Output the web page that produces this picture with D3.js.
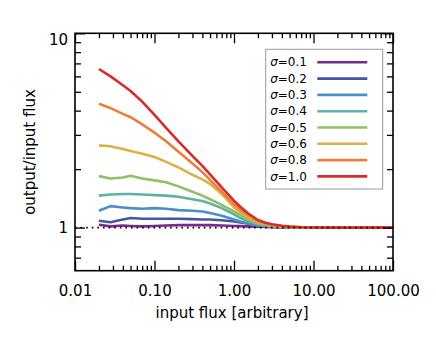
<!DOCTYPE html>
<html>
<head>
<meta charset="utf-8">
<script src="https://cdn.jsdelivr.net/npm/d3@7"></script>
<style>
  body { margin: 0; background: #fff; }
  text { font-family: "DejaVu Sans", sans-serif; }
</style>
</head>
<body>
<svg id="svg" width="436" height="339"></svg>
<script>
// sample points along the input flux axis
var fluxIn = [0.02, 0.028, 0.04, 0.05, 0.07, 0.1, 0.14, 0.2, 0.3, 0.4, 0.5, 0.7, 1, 1.2, 1.5, 2, 2.5, 3, 4, 5, 7, 10, 20, 50, 100];

// output/input ratio, one array per sigma
var ratio01 = [1.035, 1.015, 1.025, 1.02, 1.015, 1.02, 1.025, 1.03, 1.03, 1.03, 1.03, 1.025, 1.02, 1.018, 1.015, 1.01, 1.007, 1.005, 1.002, 1.0, 1.0, 1.0, 1.0, 1.0, 1.0];
var ratio02 = [1.085, 1.065, 1.10, 1.12, 1.11, 1.11, 1.11, 1.11, 1.105, 1.10, 1.10, 1.09, 1.075, 1.062, 1.05, 1.03, 1.022, 1.015, 1.009, 1.005, 1.002, 1.0, 1.0, 1.0, 1.0];
var ratio03 = [1.22, 1.29, 1.27, 1.26, 1.25, 1.26, 1.25, 1.23, 1.22, 1.21, 1.19, 1.15, 1.10, 1.075, 1.05, 1.027, 1.018, 1.012, 1.006, 1.003, 1.001, 1.0, 1.0, 1.0, 1.0];
var ratio04 = [1.46, 1.48, 1.49, 1.49, 1.48, 1.47, 1.46, 1.44, 1.40, 1.37, 1.33, 1.26, 1.17, 1.12, 1.08, 1.04, 1.027, 1.018, 1.009, 1.005, 1.001, 1.0, 1.0, 1.0, 1.0];
var ratio05 = [1.84, 1.79, 1.81, 1.85, 1.79, 1.75, 1.71, 1.63, 1.53, 1.46, 1.40, 1.31, 1.21, 1.16, 1.10, 1.05, 1.035, 1.022, 1.011, 1.006, 1.002, 1.0, 1.0, 1.0, 1.0];
var ratio06 = [2.65, 2.62, 2.54, 2.48, 2.40, 2.31, 2.18, 2.04, 1.87, 1.77, 1.68, 1.49, 1.27, 1.20, 1.13, 1.065, 1.045, 1.03, 1.015, 1.008, 1.003, 1.001, 1.0, 1.0, 1.0];
var ratio08 = [4.34, 4.12, 3.85, 3.70, 3.40, 3.08, 2.78, 2.46, 2.14, 1.93, 1.76, 1.53, 1.32, 1.24, 1.16, 1.08, 1.052, 1.035, 1.019, 1.01, 1.004, 1.001, 1.0, 1.0, 1.0];
var ratio10 = [6.55, 6.0, 5.4, 5.05, 4.45, 3.8, 3.26, 2.78, 2.34, 2.08, 1.88, 1.61, 1.375, 1.28, 1.185, 1.094, 1.06, 1.04, 1.022, 1.012, 1.005, 1.002, 1.0, 1.0, 1.0];

var sigmaLabels = ["0.1", "0.2", "0.3", "0.4", "0.5", "0.6", "0.8", "1.0"];
var colors = ["#7a2a8c", "#4356a6", "#4a8fc7", "#62b0a4", "#90c063", "#d9b04a", "#e8803a", "#dc2a2a"];

var xTicks = [0.01, 0.1, 1, 10, 100],
    xTickLabels = ["0.01", "0.10", "1.00", "10.00", "100.00"];
var yTicks = [1, 10],
    yTickLabels = ["1", "10"];

var series = [ratio01, ratio02, ratio03, ratio04, ratio05, ratio06, ratio08, ratio10];

var svg = d3.select("#svg");

var plotLeft = 75, plotRight = 393, plotTop = 33.3, plotBottom = 270.7;

var x = d3.scaleLog().domain([0.01, 100]).range([plotLeft, plotRight]);
var y = d3.scaleLog().domain([0.6, 10]).range([plotBottom, plotTop]);

// minor tick positions, 2..9 inside each decade
var xMinor = [];
[0.01, 0.1, 1, 10].forEach(function(d){
  for (var k = 2; k <= 9; k++) xMinor.push(d * k);
});
var yMinor = [0.7, 0.8, 0.9, 2, 3, 4, 5, 6, 7, 8, 9];

svg.append("defs").append("clipPath").attr("id", "plotclip")
  .append("rect").attr("x", plotLeft).attr("y", plotTop)
  .attr("width", plotRight - plotLeft).attr("height", plotBottom - plotTop);

// curves
var line = d3.line()
    .x(function(d, i){ return x(fluxIn[i]); })
    .y(function(d){ return y(d); });

var plot = svg.append("g").attr("clip-path", "url(#plotclip)");

series.forEach(function(s, i){
  plot.append("path")
    .attr("d", line(s))
    .attr("fill", "none")
    .attr("stroke", colors[i])
    .attr("stroke-width", 2.6)
    .attr("stroke-linejoin", "round");
});

// unity reference
plot.append("line")
  .attr("x1", plotLeft).attr("x2", plotRight)
  .attr("y1", y(1)).attr("y2", y(1))
  .attr("stroke", "#000")
  .attr("stroke-width", 1.6)
  .attr("stroke-dasharray", "1.6,4");

/*
* axes, all ticks pointing inward
*/
function styleAxis(g){
  g.select(".domain").remove();
  g.selectAll(".tick line").attr("stroke", "#000").attr("stroke-width", 1.3);
  g.selectAll("text").attr("font-family", "DejaVu Sans, sans-serif").attr("font-size", 15).attr("fill", "#000");
}

svg.append("g").attr("transform", "translate(0," + plotBottom + ")")
  .call(d3.axisBottom(x).tickValues(xTicks).tickSize(-10).tickPadding(15)
        .tickFormat(function(d, i){ return xTickLabels[i]; }))
  .call(styleAxis);
svg.append("g").attr("transform", "translate(0," + plotBottom + ")")
  .call(d3.axisBottom(x).tickValues(xMinor).tickSize(-5).tickFormat(""))
  .call(styleAxis);
svg.append("g").attr("transform", "translate(0," + plotTop + ")")
  .call(d3.axisTop(x).tickValues(xTicks).tickSize(-10).tickFormat(""))
  .call(styleAxis);
svg.append("g").attr("transform", "translate(0," + plotTop + ")")
  .call(d3.axisTop(x).tickValues(xMinor).tickSize(-5).tickFormat(""))
  .call(styleAxis);

var yAxisG = svg.append("g").attr("transform", "translate(" + plotLeft + ",0)")
  .call(d3.axisLeft(y).tickValues(yTicks).tickSize(-10).tickPadding(7)
        .tickFormat(function(d, i){ return yTickLabels[i]; }))
  .call(styleAxis);
// the top label sits a bit below its tick in the original
yAxisG.selectAll(".tick text").filter(function(d){ return d === 10; }).attr("dy", "0.77em");

svg.append("g").attr("transform", "translate(" + plotLeft + ",0)")
  .call(d3.axisLeft(y).tickValues(yMinor).tickSize(-6).tickFormat(""))
  .call(styleAxis);
svg.append("g").attr("transform", "translate(" + plotRight + ",0)")
  .call(d3.axisRight(y).tickValues(yTicks).tickSize(-10).tickFormat(""))
  .call(styleAxis);
svg.append("g").attr("transform", "translate(" + plotRight + ",0)")
  .call(d3.axisRight(y).tickValues(yMinor).tickSize(-6).tickFormat(""))
  .call(styleAxis);

// frame
svg.append("rect")
  .attr("x", plotLeft).attr("y", plotTop)
  .attr("width", plotRight - plotLeft).attr("height", plotBottom - plotTop)
  .attr("fill", "none").attr("stroke", "#000").attr("stroke-width", 1.6);

// axis titles
svg.append("text")
  .attr("x", 232).attr("y", 318)
  .attr("text-anchor", "middle").attr("font-size", 15)
  .text("input flux [arbitrary]");
svg.append("text")
  .attr("transform", "translate(35," + ((plotTop + plotBottom) / 2) + ") rotate(-90)")
  .attr("text-anchor", "middle").attr("font-size", 15)
  .text("output/input flux");

// legend
var lg = svg.append("g").attr("transform", "translate(265.7,49.3)");
lg.append("rect")
  .attr("width", 117).attr("height", 139.7)
  .attr("fill", "#fff").attr("stroke", "#9a9a9a").attr("stroke-width", 1);

sigmaLabels.forEach(function(s, i){
  var cy = 13 + i * 16.3;
  var t = lg.append("text")
    .attr("x", 4.5).attr("y", cy).attr("dy", "0.35em")
    .attr("font-size", 12);
  t.append("tspan").attr("font-style", "italic").text("σ");
  t.append("tspan").text("=" + s);
  lg.append("line")
    .attr("x1", 51.6).attr("x2", 101.6)
    .attr("y1", cy).attr("y2", cy)
    .attr("stroke", colors[i]).attr("stroke-width", 2.6);
});
</script>
</body>
</html>
